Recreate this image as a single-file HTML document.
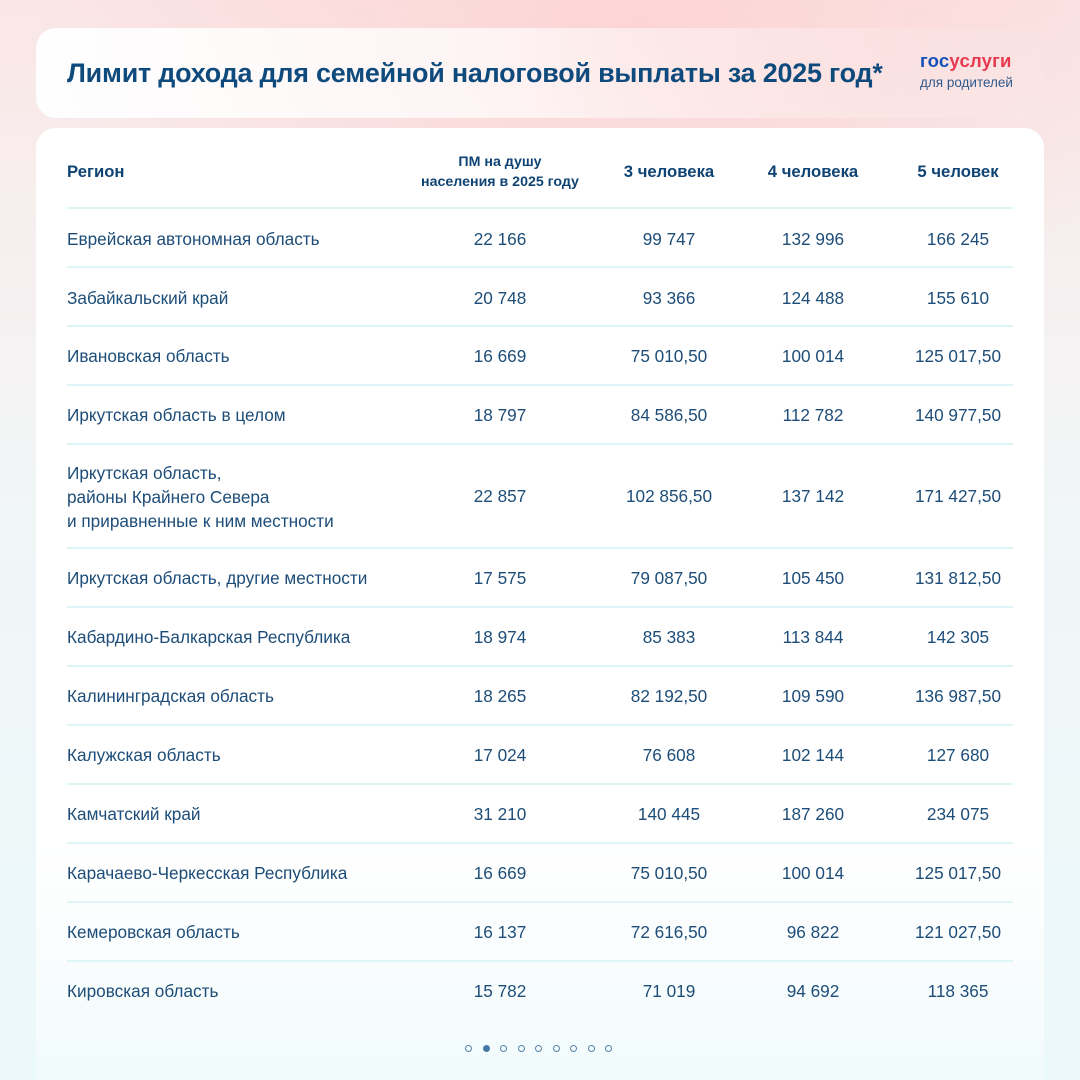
<!DOCTYPE html>
<html><head><meta charset="utf-8">
<style>
html{width:1080px;height:1080px;overflow:hidden;margin:0;padding:0;}
body{margin:0;padding:0;width:1080px;height:1080px;position:relative;overflow:hidden;
 font-family:"Liberation Sans","DejaVu Sans",sans-serif;
 background:
  radial-gradient(ellipse 600px 300px at 640px 40px, rgba(252,205,205,0.75), rgba(252,205,205,0) 100%),
  linear-gradient(180deg,#fbe6e6 0px,#f7eeee 200px,#f1f6f7 520px,#ebf9fb 1080px) no-repeat;}
.tcard{position:absolute;left:36px;top:28px;width:1008px;height:90px;border-radius:20px;
 background:linear-gradient(90deg,rgba(255,255,255,0.95) 0%,rgba(255,255,255,0.7) 45%,rgba(255,255,255,0.15) 85%,rgba(255,255,255,0.05) 100%);}
.title{position:absolute;left:67px;top:58px;font-size:26.9px;font-weight:bold;color:#0f4a7d;white-space:nowrap;letter-spacing:-0.2px;}
.logo1{position:absolute;left:920px;top:50px;font-size:18.5px;font-weight:bold;white-space:nowrap;letter-spacing:0.2px;}
.logo1 .a{color:#1350b8}.logo1 .b{color:#e8394f}
.logo2{position:absolute;left:920px;top:75px;font-size:13.5px;color:#2f5a8c;white-space:nowrap;}
.card{position:absolute;left:36px;top:128px;width:1008px;height:952px;border-radius:20px 20px 0 0;
 background:linear-gradient(180deg,#ffffff 0%,#ffffff 75%,rgba(255,255,255,0.55) 92%,rgba(255,255,255,0.3) 100%);}
.line{position:absolute;left:67px;width:946px;height:2px;background:#dff4f7;}
.h{position:absolute;font-weight:bold;color:#0f4373;white-space:nowrap;font-size:16.7px;}
.hc{transform:translateX(-50%);text-align:center;}
.t{position:absolute;left:67px;font-size:17.2px;color:#1d4d78;white-space:nowrap;line-height:24px;}
.n{position:absolute;font-size:17.2px;color:#1d4d78;white-space:nowrap;transform:translateX(-50%);}
.dot{position:absolute;top:1045px;width:5px;height:5px;border:1.6px solid #5584aa;border-radius:50%;}
.dot.f{background:#4479a6;border-color:#4479a6;}
</style></head><body>
<div class="tcard"></div>
<div class="title">Лимит дохода для семейной налоговой выплаты за 2025 год*</div>
<div class="logo1"><span class="a">гос</span><span class="b">услуги</span></div>
<div class="logo2">для родителей</div>
<div class="card"></div>

<div class="h" style="left:67px;top:162px;">Регион</div>
<div class="h hc" style="left:500px;top:152px;font-size:14.2px;line-height:20px;">ПМ на душу<br>населения в 2025 году</div>
<div class="h hc" style="left:669px;top:162px;">3 человека</div>
<div class="h hc" style="left:813px;top:162px;">4 человека</div>
<div class="h hc" style="left:958px;top:162px;">5 человек</div>

<div class="line" style="top:207px"></div>
<div class="line" style="top:266px"></div>
<div class="line" style="top:325px"></div>
<div class="line" style="top:384px"></div>
<div class="line" style="top:443px"></div>
<div class="line" style="top:547px"></div>
<div class="line" style="top:606px"></div>
<div class="line" style="top:665px"></div>
<div class="line" style="top:724px"></div>
<div class="line" style="top:783px"></div>
<div class="line" style="top:842px"></div>
<div class="line" style="top:901px"></div>
<div class="line" style="top:960px"></div>

<div class="t" style="top:227px">Еврейская автономная область</div>
<div class="n" style="left:500px;top:229px">22 166</div><div class="n" style="left:669px;top:229px">99 747</div><div class="n" style="left:813px;top:229px">132 996</div><div class="n" style="left:958px;top:229px">166 245</div>

<div class="t" style="top:286px">Забайкальский край</div>
<div class="n" style="left:500px;top:288px">20 748</div><div class="n" style="left:669px;top:288px">93 366</div><div class="n" style="left:813px;top:288px">124 488</div><div class="n" style="left:958px;top:288px">155 610</div>

<div class="t" style="top:344px">Ивановская область</div>
<div class="n" style="left:500px;top:346px">16 669</div><div class="n" style="left:669px;top:346px">75 010,50</div><div class="n" style="left:813px;top:346px">100 014</div><div class="n" style="left:958px;top:346px">125 017,50</div>

<div class="t" style="top:403px">Иркутская область в целом</div>
<div class="n" style="left:500px;top:405px">18 797</div><div class="n" style="left:669px;top:405px">84 586,50</div><div class="n" style="left:813px;top:405px">112 782</div><div class="n" style="left:958px;top:405px">140 977,50</div>

<div class="t" style="top:461px">Иркутская область,<br>районы Крайнего Севера<br>и приравненные к ним местности</div>
<div class="n" style="left:500px;top:486px">22 857</div><div class="n" style="left:669px;top:486px">102 856,50</div><div class="n" style="left:813px;top:486px">137 142</div><div class="n" style="left:958px;top:486px">171 427,50</div>

<div class="t" style="top:566px">Иркутская область, другие местности</div>
<div class="n" style="left:500px;top:568px">17 575</div><div class="n" style="left:669px;top:568px">79 087,50</div><div class="n" style="left:813px;top:568px">105 450</div><div class="n" style="left:958px;top:568px">131 812,50</div>

<div class="t" style="top:625px">Кабардино-Балкарская Республика</div>
<div class="n" style="left:500px;top:627px">18 974</div><div class="n" style="left:669px;top:627px">85 383</div><div class="n" style="left:813px;top:627px">113 844</div><div class="n" style="left:958px;top:627px">142 305</div>

<div class="t" style="top:684px">Калининградская область</div>
<div class="n" style="left:500px;top:686px">18 265</div><div class="n" style="left:669px;top:686px">82 192,50</div><div class="n" style="left:813px;top:686px">109 590</div><div class="n" style="left:958px;top:686px">136 987,50</div>

<div class="t" style="top:743px">Калужская область</div>
<div class="n" style="left:500px;top:745px">17 024</div><div class="n" style="left:669px;top:745px">76 608</div><div class="n" style="left:813px;top:745px">102 144</div><div class="n" style="left:958px;top:745px">127 680</div>

<div class="t" style="top:802px">Камчатский край</div>
<div class="n" style="left:500px;top:804px">31 210</div><div class="n" style="left:669px;top:804px">140 445</div><div class="n" style="left:813px;top:804px">187 260</div><div class="n" style="left:958px;top:804px">234 075</div>

<div class="t" style="top:861px">Карачаево-Черкесская Республика</div>
<div class="n" style="left:500px;top:863px">16 669</div><div class="n" style="left:669px;top:863px">75 010,50</div><div class="n" style="left:813px;top:863px">100 014</div><div class="n" style="left:958px;top:863px">125 017,50</div>

<div class="t" style="top:920px">Кемеровская область</div>
<div class="n" style="left:500px;top:922px">16 137</div><div class="n" style="left:669px;top:922px">72 616,50</div><div class="n" style="left:813px;top:922px">96 822</div><div class="n" style="left:958px;top:922px">121 027,50</div>

<div class="t" style="top:979px">Кировская область</div>
<div class="n" style="left:500px;top:981px">15 782</div><div class="n" style="left:669px;top:981px">71 019</div><div class="n" style="left:813px;top:981px">94 692</div><div class="n" style="left:958px;top:981px">118 365</div>

<div class="dot" style="left:465px"></div>
<div class="dot f" style="left:483px"></div>
<div class="dot" style="left:500px"></div>
<div class="dot" style="left:518px"></div>
<div class="dot" style="left:535px"></div>
<div class="dot" style="left:553px"></div>
<div class="dot" style="left:570px"></div>
<div class="dot" style="left:588px"></div>
<div class="dot" style="left:605px"></div>
</body></html>
